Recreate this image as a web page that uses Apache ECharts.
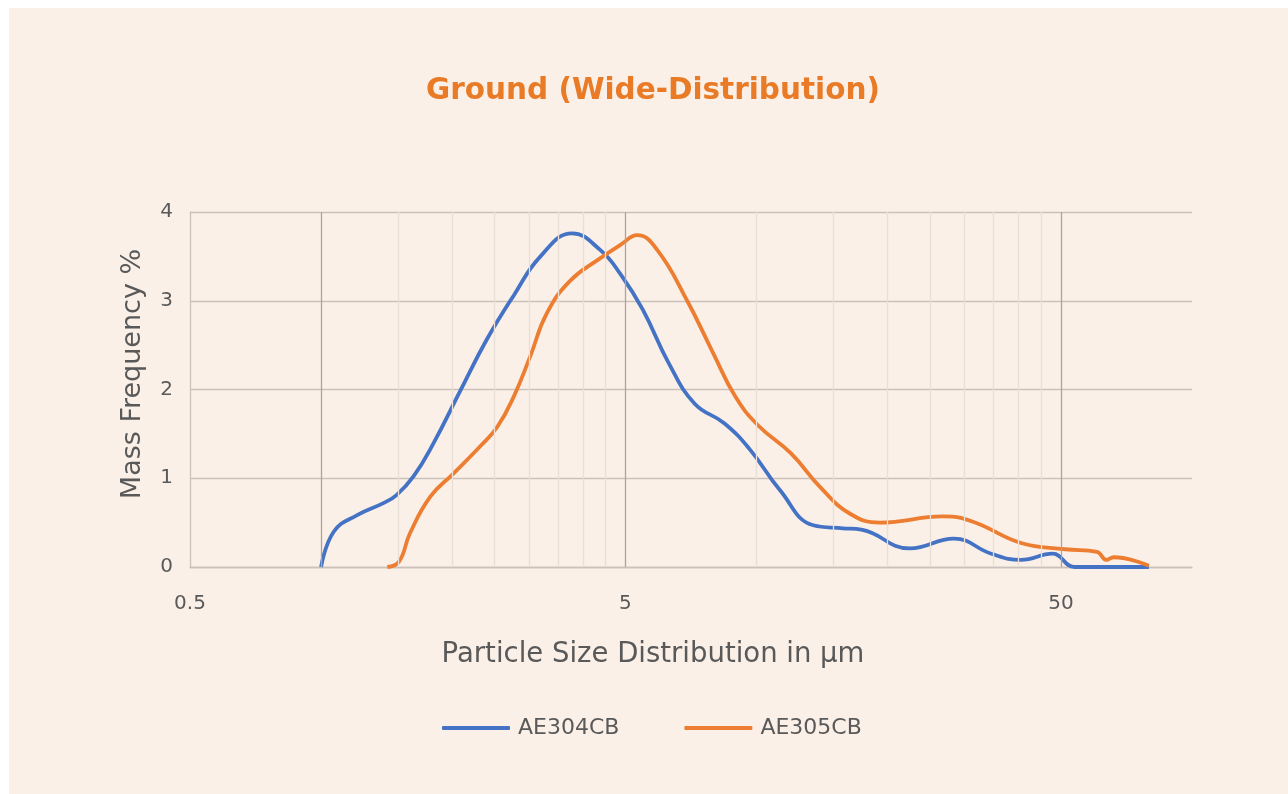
<!DOCTYPE html>
<html>
<head>
<meta charset="utf-8">
<script src="https://cdn.jsdelivr.net/npm/echarts@6/dist/echarts.min.js"></script>
<style>
  html, body { margin: 0; padding: 0; background: #ffffff; }
  #chart { position: absolute; left: 9px; top: 8px; width: 1279px; height: 786px; background: #FBF0E8; }
</style>
</head>
<body>
<div id="chart"></div>
<script>
// === ДАННЫЕ ===
const seriesNames = ['AE304CB', 'AE305CB'];

const ae304X = [1.0, 1.07, 1.21, 1.39, 1.49, 1.63, 1.81, 2.09, 2.40, 2.77, 3.19, 3.77, 4.38, 4.87, 5.48, 6.28, 7.21, 8.43, 9.67, 11.3, 13.5, 15.8, 17.4, 22.5, 28.4, 34.6, 40.5, 47.8, 53.8, 79.6];
const ae304Y = [0, 0.40, 0.585, 0.72, 0.81, 1.02, 1.39, 1.99, 2.56, 3.06, 3.50, 3.76, 3.57, 3.30, 2.90, 2.30, 1.84, 1.62, 1.32, 0.87, 0.47, 0.436, 0.42, 0.21, 0.32, 0.15, 0.08, 0.15, 0, 0];

const ae305X = [1.42, 1.51, 1.60, 1.78, 2.01, 2.32, 2.54, 2.77, 3.02, 3.30, 3.74, 4.38, 4.87, 5.32, 5.92, 6.93, 7.95, 8.94, 10.06, 12.0, 14.0, 16.4, 19.2, 26.8, 31.4, 40.5, 51.2, 60.5, 63.6, 66.1, 79.6];
const ae305Y = [0, 0.06, 0.38, 0.79, 1.05, 1.36, 1.58, 1.92, 2.37, 2.86, 3.23, 3.48, 3.63, 3.74, 3.57, 3.00, 2.41, 1.92, 1.60, 1.28, 0.90, 0.60, 0.50, 0.57, 0.51, 0.27, 0.20, 0.17, 0.08, 0.11, 0.015];

// подписи оси X и линии сетки (логарифмическая шкала)
const xTickLabels = [0.5, 5, 50];
const majorGridX = [1, 5, 50];
const minorGridX = [1.5, 2, 2.5, 3, 3.5, 4, 4.5, 10, 15, 20, 25, 30, 35, 40, 45];

// === НАСТРОЙКИ ===
const textColor = '#595959';
const fontFamily = '"DejaVu Sans", sans-serif';
const colors = ['#4472C4', '#ED7D31'];

function zip(xs, ys) {
    return xs.map((x, i) => [x, ys[i]]);
}

const chart = echarts.init(document.getElementById('chart'));

const gridLines = [
    ...majorGridX.map(v => ({ xAxis: v, lineStyle: { color: '#ABA39D', width: 1.3, type: 'solid' } })),
    ...minorGridX.map(v => ({ xAxis: v, lineStyle: { color: '#E9DFD6', width: 1.3, type: 'solid' } }))
];

const option = {
    backgroundColor: '#FBF0E8',
    textStyle: { fontFamily: fontFamily },
    title: {
        text: 'Ground (Wide-Distribution)',
        left: 412,
        top: 63,
        textStyle: { color: '#E97A26', fontSize: 29.5, fontWeight: 'bold', fontFamily: fontFamily }
    },
    legend: {
        data: seriesNames,
        left: 428,
        top: 704,
        icon: 'roundRect',
        itemWidth: 68,
        itemHeight: 4,
        itemGap: 65,
        textStyle: { color: textColor, fontSize: 22, padding: [0, 0, 0, 3] }
    },
    grid: { left: 181, right: 96, top: 204, bottom: 227 },
    xAxis: {
        type: 'log',
        logBase: 10,
        min: 0.5,
        max: 100,
        name: 'Particle Size Distribution in µm',
        nameLocation: 'middle',
        nameGap: 74,
        nameTextStyle: { color: textColor, fontSize: 27.5, padding: [0, 76, 0, 0] },
        axisLine: { show: true, lineStyle: { color: '#C9C1BA', width: 1.3 } },
        axisTick: { show: false },
        splitLine: { show: false },
        minorSplitLine: { show: false },
        axisLabel: {
            customValues: xTickLabels,
            color: textColor,
            fontSize: 20,
            margin: 27,
            formatter: v => String(v)
        }
    },
    yAxis: {
        type: 'value',
        min: 0,
        max: 4,
        interval: 1,
        name: 'Mass Frequency %',
        nameLocation: 'middle',
        nameGap: 44,
        nameTextStyle: { color: textColor, fontSize: 27, padding: [0, 0, 0, 31] },
        axisLine: { show: true, lineStyle: { color: '#C9C1BA', width: 1.3 } },
        axisTick: { show: false },
        splitLine: { lineStyle: { color: '#C9C1BA', width: 1.3 } },
        axisLabel: { color: textColor, fontSize: 20, margin: 17 }
    },
    series: [
        {
            // вспомогательная серия для вертикальной сетки
            name: 'grid',
            type: 'line',
            z: 1,
            silent: true,
            data: [[0.5, 0]],
            symbol: 'none',
            lineStyle: { opacity: 0 },
            markLine: {
                silent: true,
                symbol: ['none', 'none'],
                label: { show: false },
                animation: false,
                data: gridLines
            }
        },
        {
            name: seriesNames[0],
            type: 'line',
            z: 3,
            data: zip(ae304X, ae304Y),
            smooth: 0.45,
            symbol: 'none',
            color: colors[0],
            lineStyle: { width: 3.8, color: colors[0] }
        },
        {
            name: seriesNames[1],
            type: 'line',
            z: 4,
            data: zip(ae305X, ae305Y),
            smooth: 0.45,
            symbol: 'none',
            color: colors[1],
            lineStyle: { width: 3.8, color: colors[1] }
        }
    ]
};

chart.setOption(option);
</script>
</body>
</html>
